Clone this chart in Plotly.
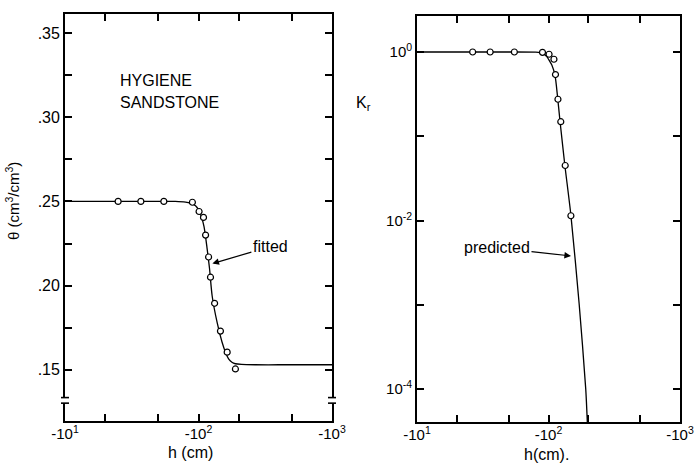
import plotly.graph_objects as go
from plotly.subplots import make_subplots

# ---- data (suction |h| in cm; axis labels show negative h) ----
theta_obs_h = [25, 37, 55, 90, 101, 109, 113, 119, 123, 132, 146, 164, 189]
theta_obs = [0.250, 0.250, 0.250, 0.2495, 0.2440, 0.2405, 0.2300, 0.2170, 0.2050, 0.1895, 0.1730, 0.1605, 0.1505]

theta_fit_h = [10, 40, 67, 80, 87, 95, 100.5, 105, 110, 116, 121, 126.5, 138, 150, 160, 168, 178, 189, 210, 266, 400, 1000]
theta_fit = [0.250, 0.250, 0.2500, 0.2496, 0.2490, 0.2475, 0.2448, 0.2410, 0.2350, 0.2220, 0.2100,
             0.1940, 0.1780, 0.1665, 0.1600, 0.1565, 0.1545, 0.1536, 0.1532, 0.1530, 0.1530, 0.1530]

kr_obs_h = [26.5, 36, 55, 90, 101, 110, 113, 118, 124, 134, 148]
kr_obs = [1.0, 1.0, 1.0, 0.99, 0.94, 0.82, 0.54, 0.275, 0.149, 0.045, 0.0114]

kr_pred_h = [10, 50, 80, 86, 92, 97, 101, 106, 112, 117, 122, 133, 148, 171, 192, 198]
kr_pred = [1.0, 1.0, 0.995, 0.985, 0.95, 0.88, 0.80, 0.70, 0.53, 0.30, 0.157, 0.046, 0.0116, 0.00103, 1.0e-4, 3.6e-5]

x_tickvals = [10, 20, 50, 100, 200, 500, 1000]
x_ticktext = ["-10<sup>1</sup>", "", "", "-10<sup>2</sup>", "", "", "-10<sup>3</sup>"]
y1_tickvals = [0.15, 0.175, 0.20, 0.225, 0.25, 0.275, 0.30, 0.325, 0.35]
y1_ticktext = [".15", "", ".20", "", ".25", "", ".30", "", ".35"]
y2_tickvals = [1, 0.1, 0.01, 0.001, 0.0001]
y2_ticktext = ["10<sup>0</sup>", "", "10<sup>-2</sup>", "", "10<sup>-4</sup>"]

W, H = 698, 465
FONT = "Liberation Sans"

fig = make_subplots(rows=1, cols=2)

line_style = dict(color="black", width=1.3)
marker_style = dict(symbol="circle", size=6, color="white", line=dict(color="black", width=1.2))

fig.add_trace(go.Scatter(x=theta_fit_h, y=theta_fit, mode="lines",
                         line=dict(shape="spline", smoothing=0.7, **line_style)), row=1, col=1)
fig.add_trace(go.Scatter(x=theta_obs_h, y=theta_obs, mode="markers", marker=marker_style), row=1, col=1)
fig.add_trace(go.Scatter(x=kr_pred_h, y=kr_pred, mode="lines",
                         line=dict(shape="spline", smoothing=0.7, **line_style)), row=1, col=2)
fig.add_trace(go.Scatter(x=kr_obs_h, y=kr_obs, mode="markers", marker=marker_style), row=1, col=2)

axis_common = dict(showline=True, linecolor="black", linewidth=1.8, mirror="ticks",
                   ticks="inside", ticklen=7, tickwidth=1.5, tickcolor="black",
                   showgrid=False, zeroline=False, automargin=False,
                   tickfont=dict(family=FONT, size=15, color="black"))

fig.update_layout(
    width=W, height=H, autosize=False, showlegend=False,
    margin=dict(l=0, r=0, t=0, b=0, pad=0),
    paper_bgcolor="white", plot_bgcolor="white",
    xaxis=dict(type="log", range=[1, 3], domain=[65 / W, 332 / W], ticklabelstandoff=-2,
               tickmode="array", tickvals=x_tickvals, ticktext=x_ticktext, **axis_common),
    yaxis=dict(range=[0.1196, 0.3613], domain=[1 - 421 / H, 1 - 14 / H],
               tickmode="array", tickvals=y1_tickvals, ticktext=y1_ticktext,
               **{**axis_common, "tickfont": dict(family=FONT, size=16, color="black")}),
    xaxis2=dict(type="log", range=[1, 3], domain=[417 / W, 680 / W], ticklabelstandoff=-2,
                tickmode="array", tickvals=x_tickvals, ticktext=x_ticktext, **axis_common),
    yaxis2=dict(type="log", range=[-4.39, 0.427], domain=[1 - 422 / H, 1 - 16 / H],
                tickmode="array", tickvals=y2_tickvals, ticktext=y2_ticktext,
                **{**axis_common, "tickfont": dict(family=FONT, size=15, color="black")}),
)

txt = dict(family=FONT, size=16, color="black")
ann = [
    dict(x=118 / W, y=1 - 80 / H, xref="paper", yref="paper", text="HYGIENE",
         showarrow=False, xanchor="left", yanchor="middle", font=txt),
    dict(x=118 / W, y=1 - 102 / H, xref="paper", yref="paper", text="SANDSTONE",
         showarrow=False, xanchor="left", yanchor="middle", font=txt),
    dict(x=12 / W, y=1 - 201 / H, xref="paper", yref="paper",
         text="θ (cm<sup>3</sup>/cm<sup>3</sup>)", textangle=-90,
         showarrow=False, xanchor="center", yanchor="middle", font=dict(family=FONT, size=15, color="black")),
    dict(x=190 / W, y=1 - 452 / H, xref="paper", yref="paper", text="h (cm)",
         showarrow=False, xanchor="center", yanchor="middle", font=txt),
    dict(x=546 / W, y=1 - 454 / H, xref="paper", yref="paper", text="h(cm).",
         showarrow=False, xanchor="center", yanchor="middle", font=txt),
    dict(x=363 / W, y=1 - 104 / H, xref="paper", yref="paper", text="K<sub>r</sub>",
         showarrow=False, xanchor="center", yanchor="middle", font=txt),
    dict(x=2.104, y=0.2131, xref="x", yref="y", text="fitted", showarrow=True,
         ax=58, ay=-17, arrowhead=2, arrowsize=1.1, arrowwidth=1.2, arrowcolor="black", font=txt),
    dict(x=2.171, y=-2.42, xref="x2", yref="y2", text="predicted", showarrow=True,
         ax=-74, ay=-8, arrowhead=2, arrowsize=1.1, arrowwidth=1.2, arrowcolor="black", font=txt),
]
fig.update_layout(annotations=ann)

# axis-break marks on the theta axis
shapes = []
for xc in (65, 332):
    shapes.append(dict(type="rect", xref="paper", yref="y", x0=(xc - 2) / W, x1=(xc + 2) / W,
                       y0=0.1302, y1=0.1335, fillcolor="white", line=dict(width=0), layer="above"))
    for yv in (0.1302, 0.1335):
        shapes.append(dict(type="line", xref="paper", yref="y", x0=(xc - 4) / W, x1=(xc + 4) / W,
                           y0=yv, y1=yv, line=dict(color="black", width=1.6), layer="above"))
fig.update_layout(shapes=shapes)

fig.write_html("out.html", config={"displayModeBar": False},
               post_script="document.body.style.margin='0';document.body.style.overflow='hidden';")
